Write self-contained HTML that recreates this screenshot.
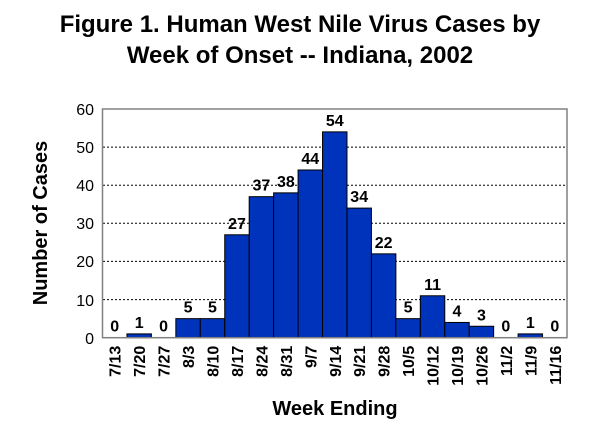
<!DOCTYPE html>
<html><head><style>body{margin:0;background:#fff}</style></head><body>
<svg width="600" height="432" xmlns="http://www.w3.org/2000/svg" font-family="Liberation Sans, Arial, sans-serif">
<rect width="600" height="432" fill="#fff"/>
<text x="300" y="32" text-anchor="middle" font-size="24" font-weight="bold">Figure 1. Human West Nile Virus Cases by</text>
<text x="300" y="63" text-anchor="middle" font-size="24" font-weight="bold">Week of Onset -- Indiana, 2002</text>
<g stroke="#000" stroke-dasharray="2,2" stroke-width="1">
<line x1="103" x2="567" y1="147.1" y2="147.1"/><line x1="103" x2="567" y1="185.2" y2="185.2"/>
<line x1="103" x2="567" y1="223.3" y2="223.3"/><line x1="103" x2="567" y1="261.4" y2="261.4"/>
<line x1="103" x2="567" y1="299.6" y2="299.6"/>
</g>
<g font-size="16" text-anchor="end">
<text x="94" y="115">60</text><text x="94" y="153">50</text><text x="94" y="191">40</text>
<text x="94" y="229">30</text><text x="94" y="267">20</text><text x="94" y="306">10</text><text x="94" y="344">0</text>
</g>
<g id="bars" fill="#0033bb" stroke="#000" stroke-width="1"></g>
<g id="vals" font-size="16" font-weight="bold" text-anchor="middle"></g>
<g id="xl" font-size="16" font-weight="bold" text-anchor="end"></g>
<rect x="102.5" y="109" width="464.5" height="228.7" fill="none" stroke="#808080" stroke-width="1.5"/>
<text x="335" y="415" text-anchor="middle" font-size="20" font-weight="bold">Week Ending</text>
<text transform="translate(47,223) rotate(-90)" text-anchor="middle" font-size="20" font-weight="bold">Number of Cases</text>
<script>
var d=[0,1,0,5,5,27,37,38,44,54,34,22,5,11,4,3,0,1,0];
var l=["7/13","7/20","7/27","8/3","8/10","8/17","8/24","8/31","9/7","9/14","9/21","9/28","10/5","10/12","10/19","10/26","11/2","11/9","11/16"];
var ns="http://www.w3.org/2000/svg",x0=102.5,w=464.5/19,yb=337.7,s=228.7/60;
function el(t,a,p,txt){var e=document.createElementNS(ns,t);for(var k in a)e.setAttribute(k,a[k]);if(txt!=null)e.textContent=txt;document.getElementById(p).appendChild(e);}
d.forEach(function(v,i){var x=x0+i*w,h=v*s;
if(v>0)el("rect",{x:x,y:yb-h,width:w,height:h},"bars");
el("text",{x:x+w/2,y:yb-h-6},"vals",v);
el("text",{transform:"translate("+(x+w/2+6)+","+(yb+8)+") rotate(-90)"},"xl",l[i]);});
</script>
</svg>
</body></html>
